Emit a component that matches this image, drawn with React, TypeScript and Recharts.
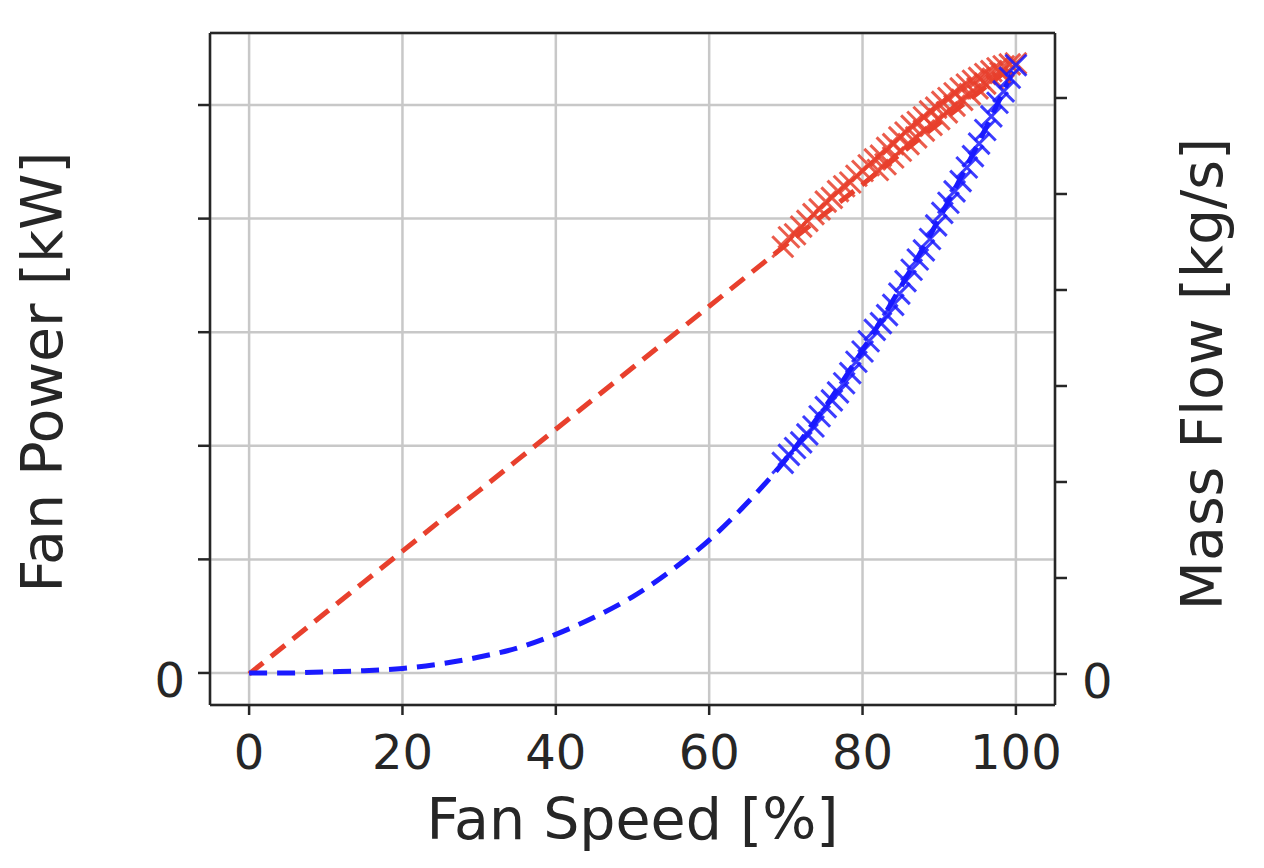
import React from "react";
import {
  ComposedChart,
  Line,
  Scatter,
  XAxis,
  YAxis,
  CartesianGrid,
  ReferenceLine,
  Label,
} from "recharts";

// model curves (dashed)
const speedModel = [0, 5, 10, 15, 20, 25, 30, 35, 40, 45, 50, 55, 60, 65, 70, 75, 80, 85, 90, 95, 100];
const powerModel = [0, 0, 0.01, 0.02, 0.04, 0.08, 0.14, 0.22, 0.34, 0.49, 0.67, 0.9, 1.17, 1.5, 1.88, 2.33, 2.84, 3.4, 4.0, 4.65, 5.35];
const flowModel = [0, 0.32, 0.64, 0.96, 1.28, 1.6, 1.91, 2.23, 2.55, 2.87, 3.19, 3.51, 3.83, 4.15, 4.47, 4.79, 5.1, 5.42, 5.74, 6.05, 6.36];

// measured points (x markers)
const speedMeasured = [
  69.6, 70.4, 71.2, 72.0, 72.8, 73.6, 74.4, 75.2, 76.0, 76.8, 77.6, 78.4, 79.2,
  80.0, 80.8, 81.6, 82.4, 83.2, 84.0, 84.8, 85.6, 86.4, 87.2, 88.0, 88.8, 89.6,
  90.4, 91.2, 92.0, 92.8, 93.6, 94.4, 95.2, 96.0, 96.8, 97.6, 98.4, 99.2, 100,
];
const powerMeasured = [
  1.85, 1.92, 1.98, 2.03, 2.1, 2.17, 2.26, 2.34, 2.4, 2.47, 2.55, 2.64, 2.74,
  2.83, 2.92, 3.02, 3.08, 3.15, 3.24, 3.34, 3.45, 3.55, 3.64, 3.72, 3.82, 3.94,
  4.05, 4.14, 4.24, 4.33, 4.45, 4.55, 4.66, 4.78, 4.9, 5.02, 5.12, 5.24, 5.35,
];
const flowMeasured = [
  4.45, 4.55, 4.58, 4.66, 4.72, 4.79, 4.84, 4.92, 4.96, 5.03, 5.08, 5.12, 5.19,
  5.24, 5.3, 5.36, 5.4, 5.48, 5.52, 5.59, 5.64, 5.71, 5.75, 5.8, 5.86, 5.9,
  5.96, 6.0, 6.05, 6.1, 6.14, 6.18, 6.21, 6.25, 6.28, 6.31, 6.33, 6.35, 6.36,
];
// second, slightly lower row of flow readings at high speed
const speedRepeat = [82, 83, 84, 85, 86, 87, 88, 89, 90, 91, 92, 93, 94, 95, 96, 97, 98];
const flowRepeat = [5.25, 5.31, 5.38, 5.45, 5.52, 5.59, 5.66, 5.72, 5.78, 5.85, 5.92, 5.98, 6.04, 6.1, 6.15, 6.2, 6.26];

const xTicks = [0, 20, 40, 60, 80, 100];
const powerTicks = [0, 1, 2, 3, 4, 5];
const flowTicks = [0, 1, 2, 3, 4, 5, 6];
const powerDomain = [-0.282, 5.634];
const flowDomain = [-0.323, 6.677];

const RED = "#e8402d";
const BLUE = "#1a1aff";
const INK = "#262626";
const FONT = "DejaVu Sans";

const powerLine = speedModel.map((x, i) => ({ x, y: powerModel[i] }));
const flowLine = speedModel.map((x, i) => ({ x, y: flowModel[i] }));
const powerPts = speedMeasured.map((x, i) => ({ x, y: powerMeasured[i] }));
const flowPts = [
  ...speedMeasured.map((x, i) => ({ x, y: flowMeasured[i] })),
  ...speedRepeat.map((x, i) => ({ x, y: flowRepeat[i] })),
];

function xMark(color: string) {
  return (props: any) => {
    const { cx, cy } = props;
    const r = 10.5;
    return (
      <path
        d={`M${cx - r},${cy - r}L${cx + r},${cy + r}M${cx - r},${cy + r}L${cx + r},${cy - r}`}
        stroke={color}
        strokeWidth={3}
        strokeOpacity={0.85}
        fill="none"
      />
    );
  };
}

function XTick(props: any) {
  const { x, y, payload } = props;
  return (
    <text x={x} y={y + 54} textAnchor="middle" fontSize={48} fontFamily={FONT} fill={INK}>
      {payload.value}
    </text>
  );
}

function LeftTick(props: any) {
  const { x, y, payload } = props;
  if (payload.value !== 0) return null;
  return (
    <text x={x - 13} y={y + 24} textAnchor="end" fontSize={48} fontFamily={FONT} fill={INK}>
      0
    </text>
  );
}

function RightTick(props: any) {
  const { x, y, payload } = props;
  if (payload.value !== 0) return null;
  return (
    <text x={x + 15} y={y + 24} textAnchor="start" fontSize={48} fontFamily={FONT} fill={INK}>
      0
    </text>
  );
}

const axisStroke = { stroke: INK, strokeWidth: 2.5 };

export default function App() {
  return (
    <div style={{ position: "absolute", left: 0, top: 0, width: 1264, height: 868, background: "#fff" }}>
      <ComposedChart width={1264} height={868} margin={{ top: 33, right: 0, bottom: 0, left: 0 }}>
        <CartesianGrid xAxisId="bottom" yAxisId="left" stroke="#c8c8c8" strokeWidth={2.5} />
        <XAxis
          xAxisId="bottom"
          dataKey="x"
          type="number"
          domain={[-5.1, 105.1]}
          ticks={xTicks}
          allowDataOverflow
          height={163}
          tickSize={10}
          tickMargin={0}
          tickLine={axisStroke}
          axisLine={axisStroke}
          tick={<XTick />}
        >
          <Label
            content={(p: any) => {
              const vb = p.viewBox || { x: 210, y: 705, width: 845, height: 163 };
              return (
                <text x={vb.x + vb.width / 2} y={vb.y + 134} textAnchor="middle" fontSize={57} fontFamily={FONT} fill={INK}>
                  Fan Speed [%]
                </text>
              );
            }}
          />
        </XAxis>
        <YAxis
          yAxisId="left"
          type="number"
          domain={powerDomain}
          ticks={powerTicks}
          allowDataOverflow
          width={210}
          tickSize={12}
          tickMargin={0}
          tickLine={axisStroke}
          axisLine={axisStroke}
          tick={<LeftTick />}
        >
          <Label
            content={(p: any) => {
              const vb = p.viewBox || { x: 0, y: 33, width: 210, height: 672 };
              const cx = vb.x + 62;
              const cy = vb.y + vb.height / 2 + 3;
              return (
                <text x={cx} y={cy} transform={`rotate(-90, ${cx}, ${cy})`} textAnchor="middle" fontSize={57} fontFamily={FONT} fill={INK}>
                  Fan Power [kW]
                </text>
              );
            }}
          />
        </YAxis>
        <YAxis
          yAxisId="right"
          orientation="right"
          type="number"
          domain={flowDomain}
          ticks={flowTicks}
          allowDataOverflow
          width={209}
          tickSize={12}
          tickMargin={0}
          tickLine={axisStroke}
          axisLine={axisStroke}
          tick={<RightTick />}
        >
          <Label
            content={(p: any) => {
              const vb = p.viewBox || { x: 1055, y: 33, width: 209, height: 672 };
              const cx = vb.x + 167;
              const cy = vb.y + vb.height / 2 + 5;
              return (
                <text x={cx} y={cy} transform={`rotate(-90, ${cx}, ${cy})`} textAnchor="middle" fontSize={57} fontFamily={FONT} fill={INK}>
                  Mass Flow [kg/s]
                </text>
              );
            }}
          />
        </YAxis>

        {/* top edge of the frame */}
        <ReferenceLine
          xAxisId="bottom"
          yAxisId="left"
          y={powerDomain[1]}
          stroke={INK}
          strokeWidth={2.5}
          ifOverflow="visible"
        />

        <Line
          xAxisId="bottom"
          yAxisId="right"
          data={flowLine}
          dataKey="y"
          type="linear"
          stroke={RED}
          strokeWidth={5}
          strokeDasharray="18 10"
          dot={false}
          activeDot={false}
          isAnimationActive={false}
        />
        <Scatter
          xAxisId="bottom"
          yAxisId="right"
          data={flowPts}
          dataKey="y"
          fill={RED}
          shape={xMark(RED)}
          isAnimationActive={false}
        />
        <Line
          xAxisId="bottom"
          yAxisId="left"
          data={powerLine}
          dataKey="y"
          type="monotone"
          stroke={BLUE}
          strokeWidth={5}
          strokeDasharray="18 10"
          dot={false}
          activeDot={false}
          isAnimationActive={false}
        />
        <Scatter
          xAxisId="bottom"
          yAxisId="left"
          data={powerPts}
          dataKey="y"
          fill={BLUE}
          shape={xMark(BLUE)}
          isAnimationActive={false}
        />
      </ComposedChart>
    </div>
  );
}
